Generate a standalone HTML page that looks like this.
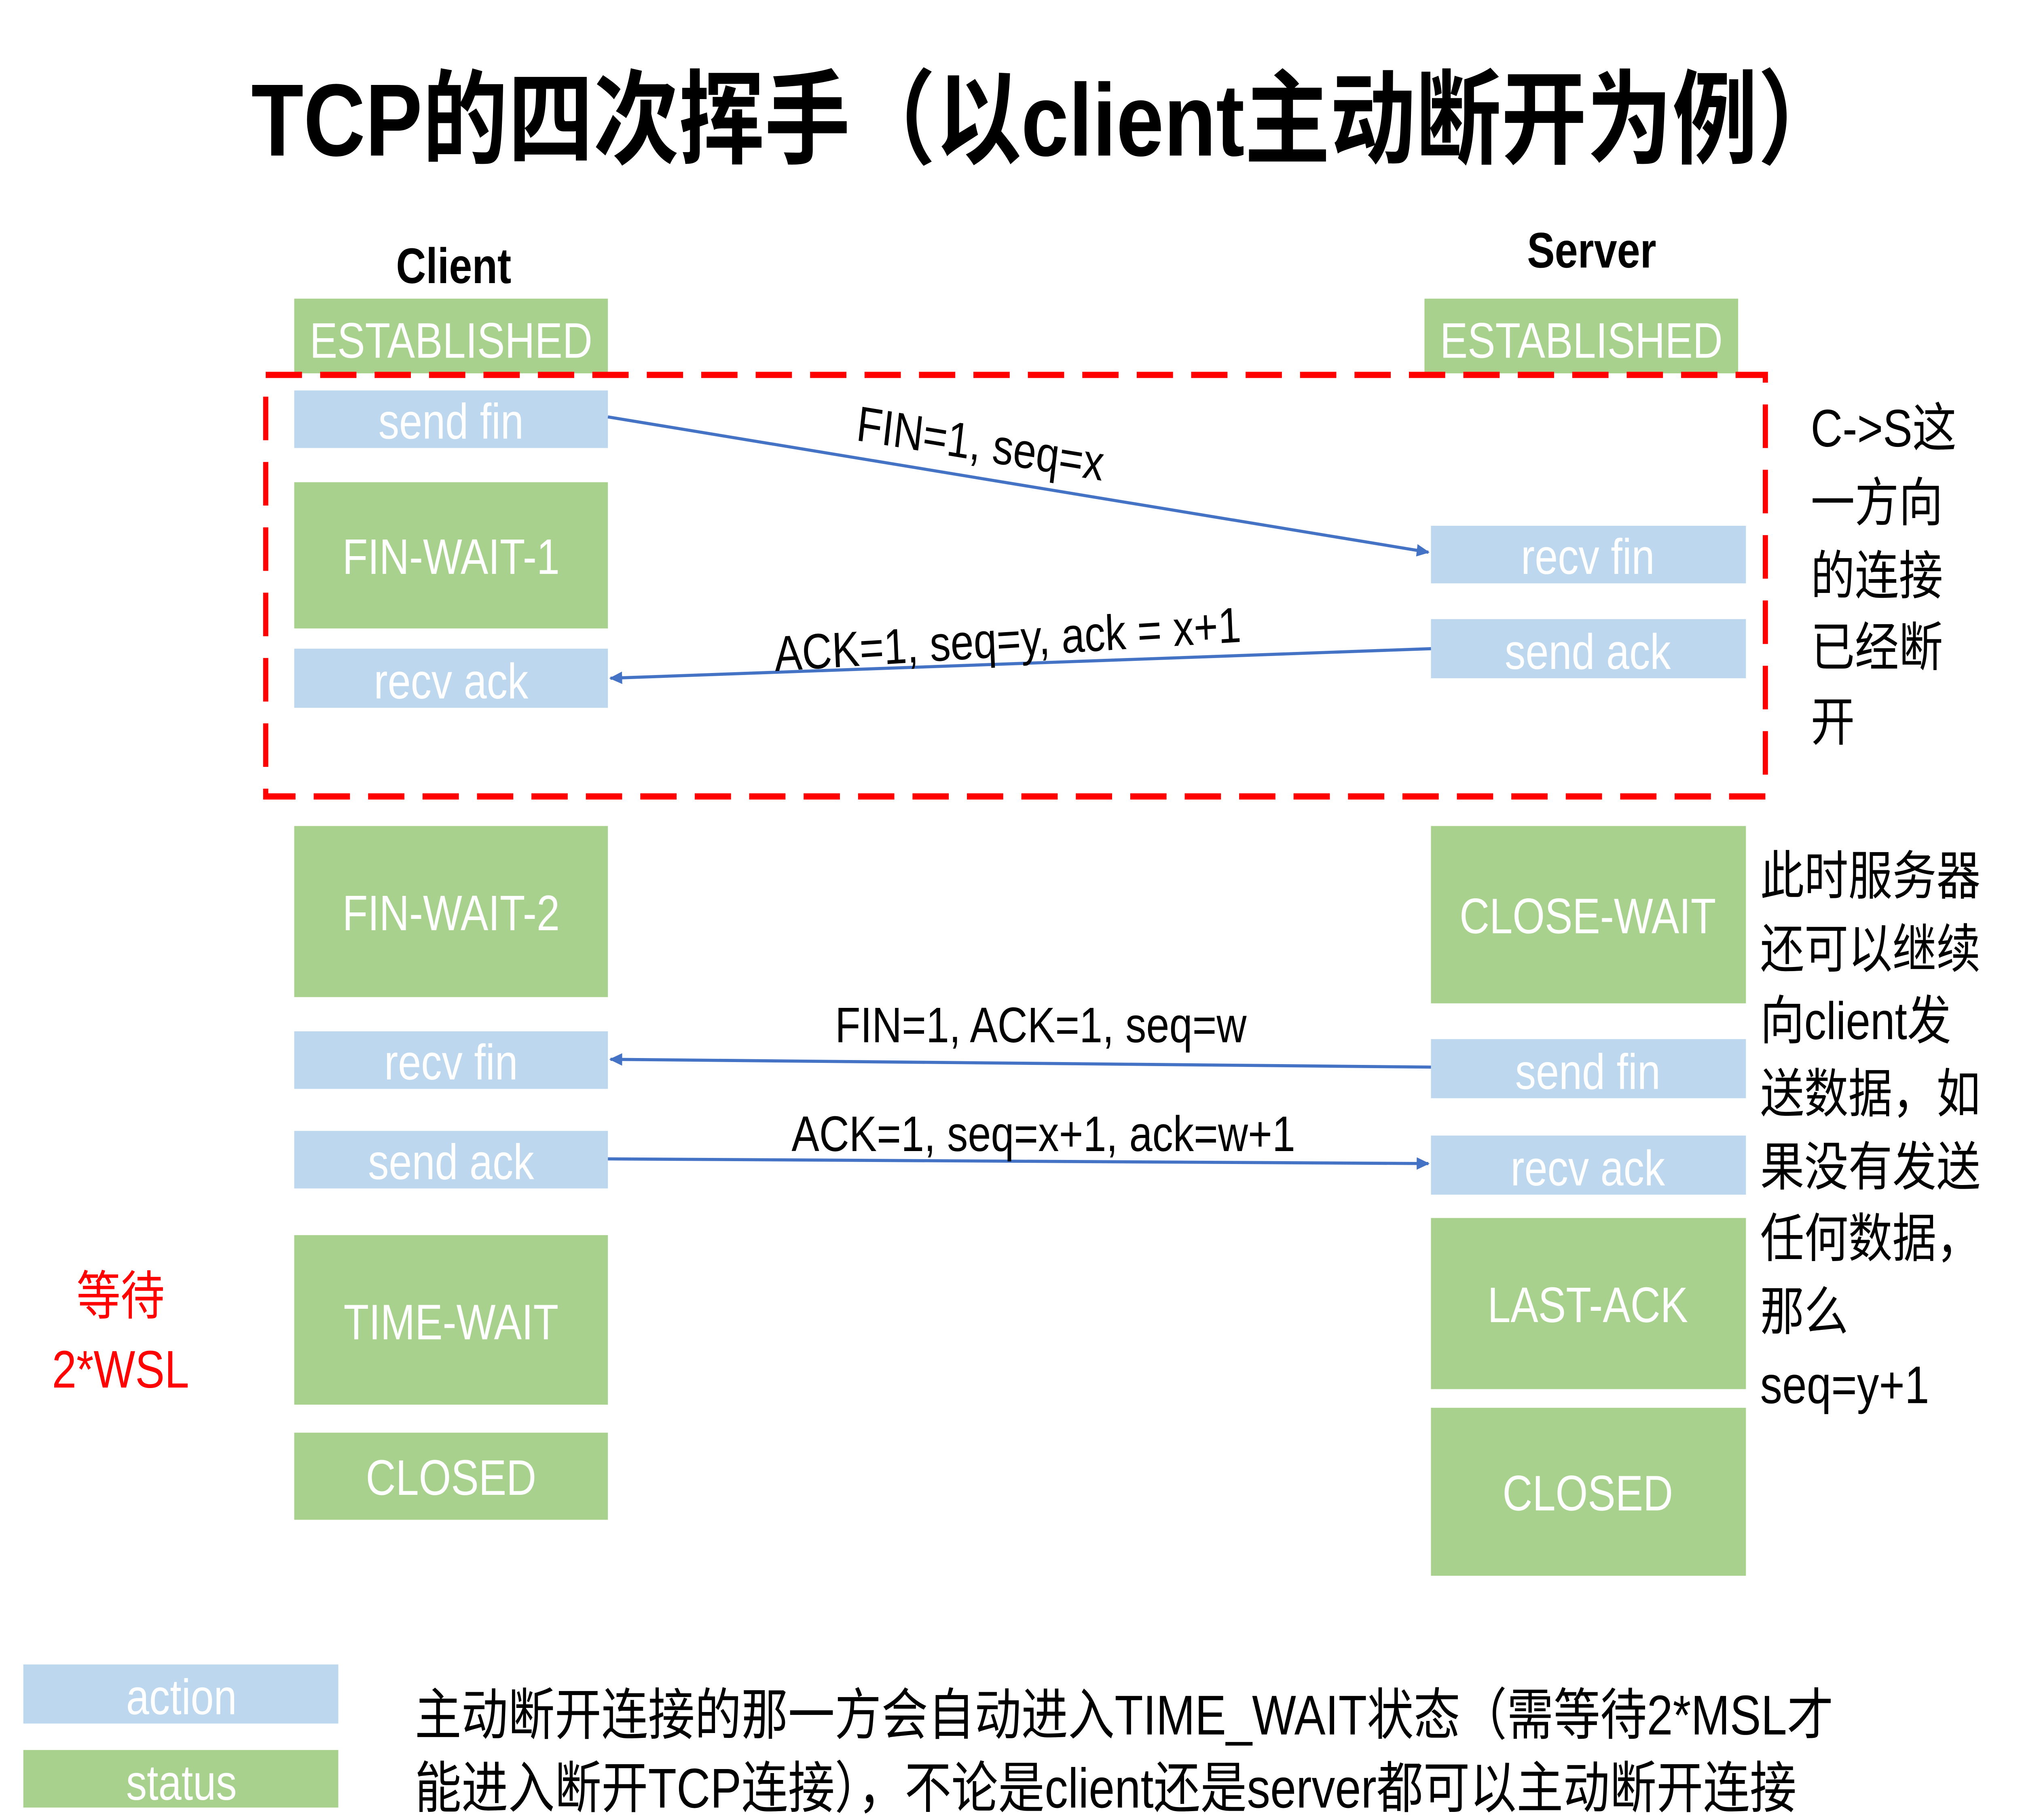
<!DOCTYPE html>
<html><head><meta charset="utf-8"><style>
html,body{margin:0;padding:0;background:#fff;overflow:hidden;width:100%;height:100%;}
svg{display:block;width:100vw;height:100vh;}
text{font-family:"Liberation Sans","Noto Sans CJK SC",sans-serif;}
</style></head><body>
<svg viewBox="0 0 1560 1170" preserveAspectRatio="none" xmlns="http://www.w3.org/2000/svg">
<defs>
<marker id="ah" markerWidth="10" markerHeight="8" refX="9" refY="4" orient="auto" markerUnits="userSpaceOnUse">
<path d="M0,0 L10,4 L0,8 Z" fill="#4472C4"/></marker>
</defs>
<rect width="1560" height="1170" fill="#fff"/>
<text x="808" y="100" font-size="66" font-weight="bold" text-anchor="middle" fill="#000">TCP的四次挥手（以client主动断开为例）</text>
<text x="350" y="182" font-size="32" font-weight="bold" text-anchor="middle">Client</text>
<text x="1228" y="172" font-size="32" font-weight="bold" text-anchor="middle">Server</text>

<g font-size="32" fill="#fff" text-anchor="middle">
<rect x="227" y="192" width="242" height="48" fill="#A9D18E"/><text x="348" y="230">ESTABLISHED</text>
<rect x="227" y="251" width="242" height="37" fill="#BDD7EE"/><text x="348" y="282">send fin</text>
<rect x="227" y="310" width="242" height="94" fill="#A9D18E"/><text x="348" y="369">FIN-WAIT-1</text>
<rect x="227" y="417" width="242" height="38" fill="#BDD7EE"/><text x="348" y="449">recv ack</text>
<rect x="227" y="531" width="242" height="110" fill="#A9D18E"/><text x="348" y="598">FIN-WAIT-2</text>
<rect x="227" y="663" width="242" height="37" fill="#BDD7EE"/><text x="348" y="694">recv fin</text>
<rect x="227" y="727" width="242" height="37" fill="#BDD7EE"/><text x="348" y="758">send ack</text>
<rect x="227" y="794" width="242" height="109" fill="#A9D18E"/><text x="348" y="861">TIME-WAIT</text>
<rect x="227" y="921" width="242" height="56" fill="#A9D18E"/><text x="348" y="961">CLOSED</text>

<rect x="1099" y="192" width="242" height="48" fill="#A9D18E"/><text x="1220" y="230">ESTABLISHED</text>
<rect x="1104" y="338" width="243" height="37" fill="#BDD7EE"/><text x="1225" y="369">recv fin</text>
<rect x="1104" y="398" width="243" height="38" fill="#BDD7EE"/><text x="1225" y="430">send ack</text>
<rect x="1104" y="531" width="243" height="114" fill="#A9D18E"/><text x="1225" y="600">CLOSE-WAIT</text>
<rect x="1104" y="668" width="243" height="38" fill="#BDD7EE"/><text x="1225" y="700">send fin</text>
<rect x="1104" y="730" width="243" height="38" fill="#BDD7EE"/><text x="1225" y="762">recv ack</text>
<rect x="1104" y="783" width="243" height="110" fill="#A9D18E"/><text x="1225" y="850">LAST-ACK</text>
<rect x="1104" y="905" width="243" height="108" fill="#A9D18E"/><text x="1225" y="971">CLOSED</text>

<rect x="18" y="1070" width="243" height="38" fill="#BDD7EE"/><text x="140" y="1102">action</text>
<rect x="18" y="1125" width="243" height="37" fill="#A9D18E"/><text x="140" y="1157">status</text>
</g>

<rect x="205" y="241" width="1157" height="271" fill="none" stroke="#FF0000" stroke-width="4" stroke-dasharray="28,14"/>

<g stroke="#4472C4" stroke-width="2" fill="none">
<line x1="469" y1="268" x2="1102" y2="355" marker-end="url(#ah)"/>
<line x1="1104" y1="417" x2="471" y2="436" marker-end="url(#ah)"/>
<line x1="1104" y1="686" x2="471" y2="681" marker-end="url(#ah)"/>
<line x1="469" y1="745" x2="1102" y2="748" marker-end="url(#ah)"/>
</g>
<g font-size="32" fill="#000" text-anchor="middle">
<text x="755" y="296" transform="rotate(7.8 755 296)">FIN=1, seq=x</text>
<text x="778" y="422" transform="rotate(-3 778 422)">ACK=1, seq=y, ack = x+1</text>
<text x="803" y="670">FIN=1, ACK=1, seq=w</text>
<text x="805" y="740">ACK=1, seq=x+1, ack=w+1</text>
</g>

<g font-size="34" fill="#000">
<text x="1397" y="287">C-&gt;S这</text>
<text x="1397" y="335">一方向</text>
<text x="1397" y="382">的连接</text>
<text x="1397" y="428">已经断</text>
<text x="1397" y="476">开</text>
<text x="1358" y="575">此时服务器</text>
<text x="1358" y="622">还可以继续</text>
<text x="1358" y="668">向client发</text>
<text x="1358" y="715">送数据，如</text>
<text x="1358" y="762">果没有发送</text>
<text x="1358" y="808">任何数据，</text>
<text x="1358" y="855">那么</text>
<text x="1358" y="902">seq=y+1</text>
</g>
<g font-size="34" fill="#FF0000" text-anchor="middle">
<text x="93" y="845">等待</text>
<text x="93" y="892">2*WSL</text>
</g>
<g font-size="36" fill="#000">
<text x="320" y="1115">主动断开连接的那一方会自动进入TIME_WAIT状态（需等待2*MSL才</text>
<text x="320" y="1162">能进入断开TCP连接），不论是client还是server都可以主动断开连接</text>
</g>
</svg>
</body></html>
